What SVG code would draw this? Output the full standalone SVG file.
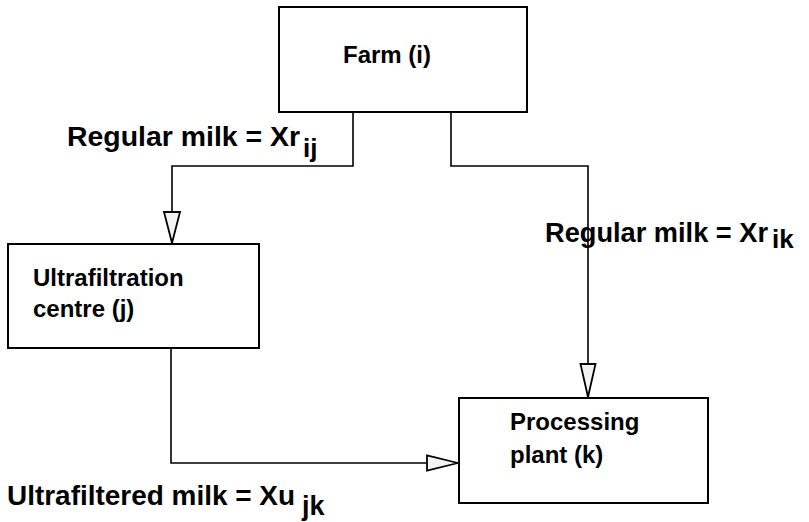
<svg xmlns="http://www.w3.org/2000/svg" width="809" height="522" viewBox="0 0 809 522">
  <style>
    .box { fill: #ffffff; stroke: #000000; stroke-width: 2; }
    .wire { fill: none; stroke: #000000; stroke-width: 1.6; }
    .head { fill: #f3f3f3; stroke: #000000; stroke-width: 1.8; stroke-linejoin: miter; }
    .node-text { font-family: "Liberation Sans", Arial, sans-serif; font-weight: bold; font-size: 24px; fill: #000000; }
    .flow-text { font-family: "Liberation Sans", Arial, sans-serif; font-weight: bold; font-size: 27px; fill: #000000; }
    .sub { font-size: 26px; }
  </style>
  <rect width="809" height="522" fill="#ffffff"/>

  <g id="labels">
    <text class="flow-text" x="67" y="146" textLength="233" lengthAdjust="spacingAndGlyphs">Regular milk = Xr</text>
    <text class="flow-text sub" x="303" y="157">ij</text>
    <text class="flow-text" x="545" y="242" textLength="223" lengthAdjust="spacingAndGlyphs">Regular milk = Xr</text>
    <text class="flow-text sub" x="772" y="248">ik</text>
    <text class="flow-text" x="7" y="505" font-size="28" textLength="288" lengthAdjust="spacingAndGlyphs">Ultrafiltered milk = Xu</text>
    <text class="flow-text" x="302" y="515" font-size="28">jk</text>
  </g>

  <!-- flows between sites -->
  <g id="connectors">
    <!-- farm to ultrafiltration centre -->
    <path class="wire" d="M353,112 V166 H172 V212"/>
    <polygon class="head" points="164,212 180,212 172,243"/>
    <!-- farm to processing plant -->
    <path class="wire" d="M451,112 V166 H588 V364"/>
    <polygon class="head" points="580.5,364 595.5,364 588,397"/>
    <!-- ultrafiltration centre to processing plant -->
    <path class="wire" d="M171,348 V463 H427"/>
    <polygon class="head" points="427,455.5 427,470.5 458,463"/>
  </g>

  <g id="farm">
    <rect class="box" x="279" y="7" width="248" height="105"/>
    <text class="node-text" x="343" y="63">Farm (i)</text>
  </g>

  <g id="ultrafiltration-centre">
    <rect class="box" x="8" y="244" width="251" height="104"/>
    <text class="node-text" x="33" y="286" font-size="23">Ultrafiltration</text>
    <text class="node-text" x="33" y="317" font-size="23">centre (j)</text>
  </g>

  <g id="processing-plant">
    <rect class="box" x="459" y="398" width="249" height="105"/>
    <text class="node-text" x="510" y="430">Processing</text>
    <text class="node-text" x="510" y="463">plant (k)</text>
  </g>
</svg>
